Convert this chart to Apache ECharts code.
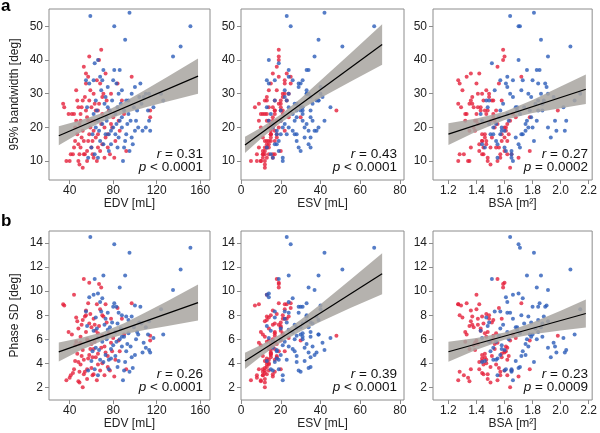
<!DOCTYPE html>
<html>
<head>
<meta charset="utf-8">
<script src="https://cdn.jsdelivr.net/npm/echarts@6/dist/echarts.min.js"></script>
<style>
  html, body { margin: 0; padding: 0; background: #fff; }
  #chart { width: 600px; height: 433px; }
</style>
</head>
<body>
<div id="chart"></div>
<script>
// group 1 (red)
const redEdv = [34,35,37,40,42,43,44,45,46,47, 47,48,48,49,49,50,50,51,52,53, 53,54,55,55,56,57,57,58,58,59,
  60,60,61,62,62,63,64,65,65,66, 67,68,68,69,70,70,71,72,72,73, 74,75,76,77,78,79,80,82,84,85,
  88,90,97,114,114,44,46,48,51,52, 54,56,58,60,63,66,69,75,81,41, 39,86,92,67,55,
  45,49,52,53,57,59,61,64,66,70, 73,62,56,50,78]
const redEsv = [9,7,5,8,11,12,13,10,14,12, 15,10,13,12,11,14,9,16,12,18, 14,13,17,15,16,19,13,19,17,14,
  20,12,11,21,13,16,18,22,10,15, 20,22,12,19,17,14,24,16,11,23, 20,18,21,14,22,19,24,17,25,20,
  23,21,25,48,30,9,13,14,11,15, 17,12,15,18,19,17,15,13,16,8, 10,22,20,19,16,
  12,15,13,16,14,18,15,20,13,21, 15,17,11,12,17]
const redBsa = [1.27,1.29,1.27,1.34,1.33,1.44,1.40,1.38,1.30,1.36, 1.46,1.35,1.42,1.50,1.28,1.45,1.39,1.41,1.64,1.55,
  1.47,1.37,1.48,1.28,1.52,1.33,1.44,1.60,1.45,1.53, 1.38,1.56,1.62,1.41,1.48,1.50,1.46,1.27,1.55,1.58,
  1.35,1.40,1.60,1.59,1.52,1.47,1.44,1.61,1.57,1.42, 1.51,1.63,1.54,1.65,1.49,1.60,1.68,1.62,1.56,1.64,
  1.58,1.66,1.72,1.98,1.78,1.36,1.32,1.43,1.51,1.39, 1.57,1.48,1.44,1.53,1.37,1.46,1.62,1.50,1.70,1.31,
  1.32,1.61,1.78,1.59,1.36,
  1.44,1.41,1.52,1.45,1.40,1.47,1.58,1.43,1.54,1.49, 1.60,1.35,1.42,1.47,1.55]
const redBw = [27,26,10,10,24,12,24,20,31,28, 18,10,15,9,12,14,22,26,8,38, 16,29,25,33,23,35,16,41,28,20,
  26,14,12,30,11,22,17,34,10,18, 27,33,13,43,24,15,30,20,11,36, 28,18,25,12,30,20,23,16,33,22,
  28,24,35,25,23,14,22,26,17,19, 12,10,18,22,27,25,21,14,11,12, 24,19,13,40,36,
  16,21,28,12,22,31,16,25,14,29, 17,19,13,24,21]
const redPsd = [8.9,8.8,2.6,2.8,6.4,3.2,9.7,5.5,7.8,7.5, 4.8,2.5,4.1,2.4,3.3,3.9,5.7,7.2,2.0,11.0,
  4.3,7.9,6.6,8.0,6.0,9.0,4.4,10.7,7.3,5.2, 7.0,3.6,3.0,7.7,3.1,5.8,4.5,8.9,2.6,4.8,
  7.1,8.5,3.4,10.3,6.3,4.0,7.9,5.4,3.0,8.9, 7.4,4.6,6.5,3.4,7.7,5.0,6.1,4.3,8.6,5.9,
  7.7,6.4,9.0,6.3,5.9,3.5,5.8,6.9,4.6,5.1, 3.3,2.7,4.7,5.6,7.2,6.5,5.3,3.7,2.9,3.0,
  6.6,5.0,3.5,10.6,8.4,
  4.2,5.6,7.6,3.1,5.9,8.1,4.5,6.7,3.9,8.0, 4.9,5.2,3.5,6.2,5.7]

// group 2 (blue)
const blueEdv = [59,95,81,151,91,142,135,63,66,71, 62,55,75,80,83,86,88,92,94,100,
  104,110,113,112,124,126,113,114,110,103, 100,98,95,90,92,88,85,82,80,78,
  76,74,72,70,68,66,64,62,61,60, 58,57,66,71,77,84,87,89,96,102,
  107,117,105,84,79,73,69,86,93,99, 63,67,75,70,64,56,74,90,81,97,
  68,73,78,82,85,88,91,94,97,101, 106,65,76,83,108]
const blueEsv = [23,42,25,67,39,51,37,19,14,24, 13,17,29,31,30,34,33,38,39,40,
  35,34,33,30,40,39,42,34,32,39, 37,34,30,29,27,24,32,26,21,18,
  23,20,27,16,19,14,17,15,18,13, 14,16,21,17,28,31,28,21,36,35,
  38,45,29,35,23,20,22,27,33,30, 15,18,24,26,16,13,28,31,33,35,
  24,22,26,28,24,35,28,31,33,31, 36,20,19,22,41]
const blueBsa = [1.64,1.81,1.70,1.71,1.86,2.07,1.91,1.51,1.70,1.76, 1.66,1.57,1.62,1.80,1.84,1.83,1.72,1.88,1.84,1.90,
  1.79,1.86,1.91,1.78,2.14,2.10,2.04,2.03,1.91,1.80, 1.75,1.70,1.65,1.60,1.73,1.77,1.68,1.62,1.58,1.55,
  1.52,1.63,1.59,1.49,1.54,1.44,1.47,1.43,1.50,1.46, 1.61,1.65,1.55,1.44,1.69,1.74,1.82,1.66,1.96,1.84,
  1.97,2.02,1.89,1.71,1.49,1.57,1.53,1.76,1.75,1.68, 1.65,1.60,1.69,1.73,1.52,1.48,1.56,1.87,1.85,1.93,
  1.62,1.66,1.58,1.72,1.64,1.79,1.81,1.71,1.77,1.83, 1.87,1.57,1.61,1.54,1.95]
const blueBw = [53,54,50,50,46,44,41,39,40,37, 34,34,32,34,33,37,31,28,28,32,
  29,30,30,25,30,28,22,19,20,20, 19,15,13,14,18,20,17,24,20,15,
  18,22,27,21,16,22,28,24,18,14, 33,11,11,15,25,26,27,10,22,25,
  19,26,33,14,28,18,31,22,21,26, 12,19,26,34,20,26,23,25,37,17,
  35,29,19,18,30,23,16,24,30,22, 27,25,13,21,29]
const bluePsd = [14.5,13.2,13.9,13.6,11.3,11.8,10.1,11.0,9.8,11.3, 9.7,8.3,8.2,8.7,8.7,10.3,8.0,7.9,7.6,8.8,
  7.4,7.0,7.5,6.4,8.5,6.4,5.1,4.9,5.3,6.4, 4.7,3.6,3.3,3.4,5.0,5.4,4.2,6.6,5.5,4.4,
  4.3,6.0,7.2,5.8,4.3,6.1,7.8,6.7,5.0,4.2, 9.5,3.4,3.0,4.1,7.0,7.3,6.9,2.6,5.4,6.6,
  4.9,6.1,8.7,3.7,7.4,4.7,8.3,6.0,5.6,7.0, 3.5,5.1,6.8,9.4,5.3,7.1,6.3,6.2,9.0,4.5,
  9.1,7.7,5.2,4.6,8.2,6.2,4.1,6.5,7.9,6.0, 7.3,6.9,3.5,5.8,5.7]

// regression lines and 95% bands
const fitEdvX = [30, 158]
const fitEsvX = [2, 71]
const fitBsaX = [1.2, 2.18]
const bandEdvX = [30, 50, 70, 90, 110, 130, 158]
const bandEsvX = [2, 10, 20, 30, 40, 55, 71]
const bandBsaX = [1.2, 1.4, 1.6, 1.8, 2.0, 2.18]

const fitBwEdv = [17.5, 35.2]
const bandBwEdvLo = [14.7, 18.5, 21.7, 24.1, 26.0, 27.7, 30.0]
const bandBwEdvHi = [20.3, 22.1, 24.3, 27.5, 31.2, 35.0, 40.4]
const fitBwEsv = [14.8, 44.6]
const bandBwEsvLo = [12.4, 16.6, 21.4, 25.3, 28.7, 33.5, 38.6]
const bandBwEsvHi = [17.2, 19.9, 23.8, 28.6, 33.9, 41.9, 50.6]
const fitBwBsa = [18.0, 31.3]
const bandBwBsaLo = [14.8, 18.8, 22.2, 24.3, 25.7, 26.9]
const bandBwBsaHi = [21.2, 22.6, 24.6, 28.1, 32.1, 35.7]

const fitPsdEdv = [4.95, 9.05]
const bandPsdEdvLo = [4.16, 5.08, 5.87, 6.41, 6.78, 7.11, 7.55]
const bandPsdEdvHi = [5.74, 6.10, 6.59, 7.33, 8.24, 9.19, 10.55]
const fitPsdEsv = [4.2, 11.45]
const bandPsdEsvLo = [3.52, 4.56, 5.74, 6.66, 7.46, 8.59, 9.75]
const bandPsdEsvHi = [4.88, 5.52, 6.44, 7.62, 8.92, 10.95, 13.15]
const fitPsdBsa = [4.96, 8.14]
const bandPsdBsaLo = [4.13, 5.12, 5.96, 6.41, 6.72, 6.98]
const bandPsdBsaHi = [5.79, 6.10, 6.56, 7.39, 8.38, 9.30]

const rValues = ['0.31', '0.43', '0.27', '0.26', '0.39', '0.23']
const pValues = ['< 0.0001', '< 0.0001', '= 0.0002', '< 0.0001', '< 0.0001', '= 0.0009']

// tick labels
const edvTicks = [40, 80, 120, 160]
const esvTicks = [0, 20, 40, 60, 80]
const bsaTicks = [1.2, 1.4, 1.6, 1.8, 2.0, 2.2]
const bwTicks = [10, 20, 30, 40, 50]
const psdTicks = [2, 4, 6, 8, 10, 12, 14]

const RED = '#e5213b'
const BLUE = '#2c5db9'
const FRAME = '#8c8c8c'
const FONT = '"Liberation Sans", Arial, sans-serif'

const cols = [
  { left: 49, width: 161, xName: 'EDV [mL]', min: 21, max: 169, ticks: edvTicks, fmt: v => String(v) },
  { left: 241, width: 163, xName: 'ESV [mL]', min: 0, max: 82, ticks: esvTicks, fmt: v => String(v) },
  { left: 433, width: 162, xName: 'BSA [m²]', min: 1.09, max: 2.225, ticks: bsaTicks, fmt: v => v.toFixed(1) }
]
const rows = [
  { top: 9, height: 171, yName: '95% bandwidth [deg]', min: 4.4, max: 55.1, ticks: bwTicks },
  { top: 231, height: 169, yName: 'Phase SD [deg]', min: 0.95, max: 15.0, ticks: psdTicks }
]

const panels = [
  { red: [redEdv, redBw], blue: [blueEdv, blueBw], fitX: fitEdvX, fitY: fitBwEdv, bx: bandEdvX, lo: bandBwEdvLo, hi: bandBwEdvHi },
  { red: [redEsv, redBw], blue: [blueEsv, blueBw], fitX: fitEsvX, fitY: fitBwEsv, bx: bandEsvX, lo: bandBwEsvLo, hi: bandBwEsvHi },
  { red: [redBsa, redBw], blue: [blueBsa, blueBw], fitX: fitBsaX, fitY: fitBwBsa, bx: bandBsaX, lo: bandBwBsaLo, hi: bandBwBsaHi },
  { red: [redEdv, redPsd], blue: [blueEdv, bluePsd], fitX: fitEdvX, fitY: fitPsdEdv, bx: bandEdvX, lo: bandPsdEdvLo, hi: bandPsdEdvHi },
  { red: [redEsv, redPsd], blue: [blueEsv, bluePsd], fitX: fitEsvX, fitY: fitPsdEsv, bx: bandEsvX, lo: bandPsdEsvLo, hi: bandPsdEsvHi },
  { red: [redBsa, redPsd], blue: [blueBsa, bluePsd], fitX: fitBsaX, fitY: fitPsdBsa, bx: bandBsaX, lo: bandPsdBsaLo, hi: bandPsdBsaHi }
]

function zip (xs, ys) {
  return xs.map((x, i) => [x, ys[i]])
}

const grid = []
const xAxis = []
const yAxis = []
const series = []
const graphic = []

panels.forEach((p, i) => {
  const row = rows[Math.floor(i / 3)]
  const col = cols[i % 3]
  grid.push({
    left: col.left, top: row.top, width: col.width, height: row.height,
    show: true, borderColor: FRAME, borderWidth: 1, backgroundColor: 'transparent'
  })
  const tickStyle = { show: true, length: 4, lineStyle: { color: FRAME } }
  const labelStyle = { color: '#222', fontSize: 12, fontFamily: FONT }
  xAxis.push({
    gridIndex: i, type: 'value', min: col.min, max: col.max,
    axisLine: { show: false }, splitLine: { show: false },
    axisTick: Object.assign({ customValues: col.ticks }, tickStyle),
    axisLabel: Object.assign({ customValues: col.ticks, margin: 5, formatter: col.fmt }, labelStyle),
    name: col.xName, nameLocation: 'middle', nameGap: 18,
    nameTextStyle: { color: '#222', fontSize: 12, fontFamily: FONT }
  })
  yAxis.push({
    gridIndex: i, type: 'value', min: row.min, max: row.max,
    axisLine: { show: false }, splitLine: { show: false },
    axisTick: Object.assign({ customValues: row.ticks }, tickStyle),
    axisLabel: Object.assign({ customValues: row.ticks, margin: 6 }, labelStyle),
    name: i % 3 === 0 ? row.yName : '', nameLocation: 'middle', nameGap: 28,
    nameTextStyle: { color: '#222', fontSize: 12, fontFamily: FONT }
  })
  series.push({
    type: 'scatter', xAxisIndex: i, yAxisIndex: i, symbolSize: 4, z: 2,
    itemStyle: { color: RED }, data: zip(p.red[0], p.red[1])
  })
  series.push({
    type: 'scatter', xAxisIndex: i, yAxisIndex: i, symbolSize: 4, z: 2,
    itemStyle: { color: BLUE }, data: zip(p.blue[0], p.blue[1])
  })
  series.push({
    type: 'custom', xAxisIndex: i, yAxisIndex: i, z: 3, silent: true,
    data: [[p.bx[0], p.lo[0]]],
    renderItem: function (params, api) {
      const pts = []
      p.bx.forEach((x, k) => pts.push(api.coord([x, p.hi[k]])))
      for (let k = p.bx.length - 1; k >= 0; k--) pts.push(api.coord([p.bx[k], p.lo[k]]))
      return {
        type: 'polygon',
        shape: { points: pts },
        style: { fill: 'rgba(168,164,160,0.85)' }
      }
    }
  })
  series.push({
    type: 'line', xAxisIndex: i, yAxisIndex: i, z: 4, symbol: 'none', silent: true,
    lineStyle: { color: '#000', width: 1.2 }, data: zip(p.fitX, p.fitY)
  })
  const right = col.left + col.width - 7
  const base = row.top + row.height
  const rich = { i: { fontStyle: 'italic', fontSize: 13.5, fontFamily: FONT, fill: '#111' } }
  graphic.push({
    type: 'text', x: right, y: base - 26,
    style: {
      text: '{i|r} = ' + rValues[i], align: 'right', verticalAlign: 'middle',
      font: '13.5px ' + FONT, fill: '#111', rich
    }
  })
  graphic.push({
    type: 'text', x: right, y: base - 13,
    style: {
      text: '{i|p} ' + pValues[i], align: 'right', verticalAlign: 'middle',
      font: '13.5px ' + FONT, fill: '#111', rich
    }
  })
})

graphic.push({ type: 'text', x: 1, y: 6, style: { text: 'a', font: 'bold 17px ' + FONT, fill: '#000', verticalAlign: 'middle' } })
graphic.push({ type: 'text', x: 1, y: 221, style: { text: 'b', font: 'bold 17px ' + FONT, fill: '#000', verticalAlign: 'middle' } })

const chart = echarts.init(document.getElementById('chart'), null, { renderer: 'canvas' })
chart.setOption({
  animation: false,
  backgroundColor: '#fff',
  grid, xAxis, yAxis, series, graphic
})
</script>
</body>
</html>
